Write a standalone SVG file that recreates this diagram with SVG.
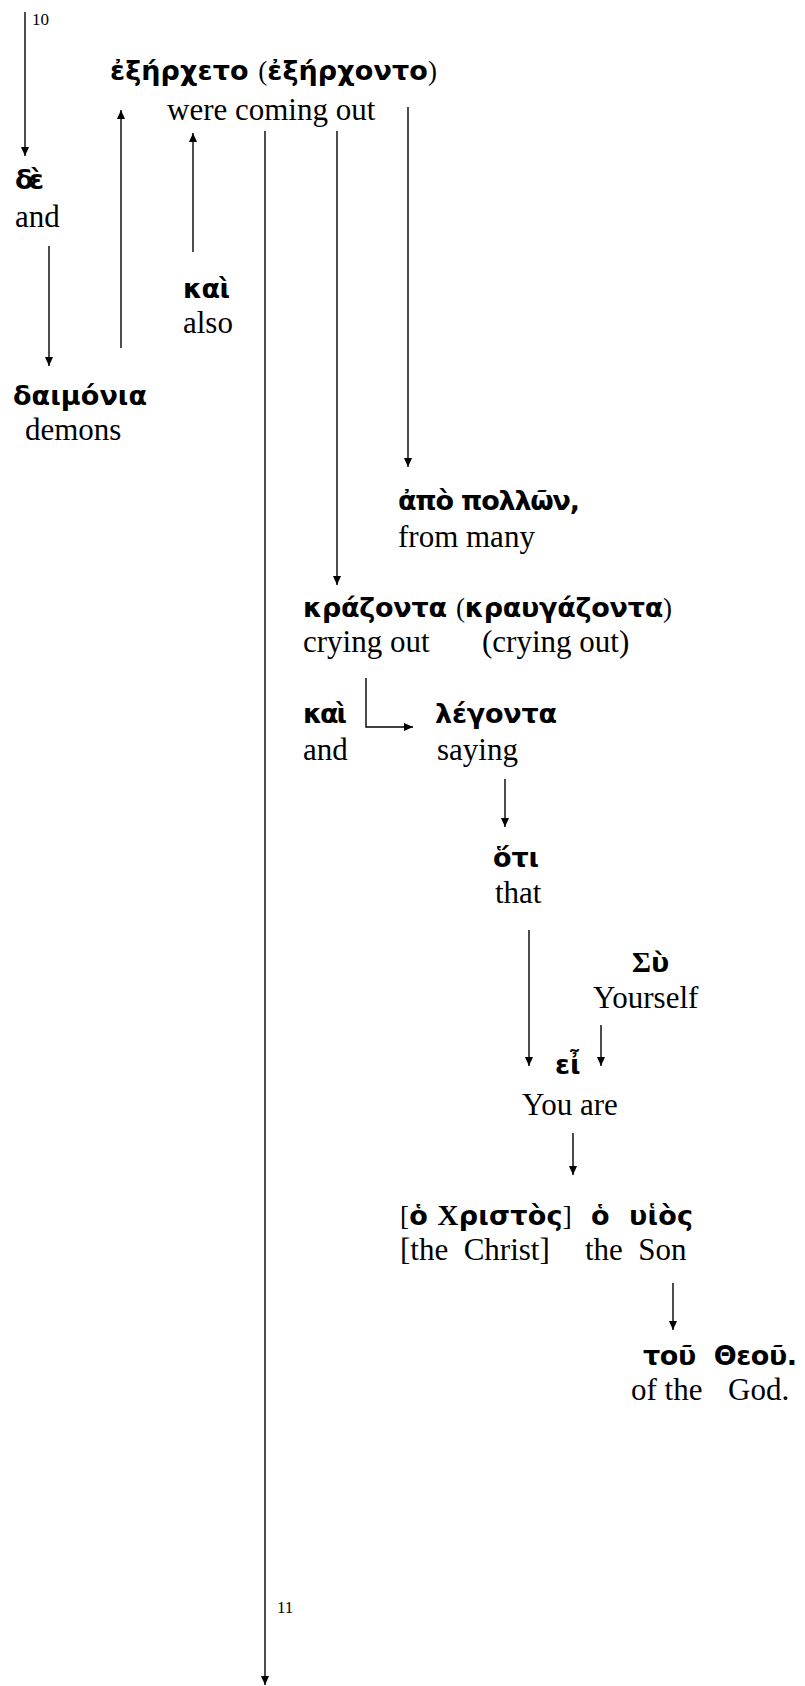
<svg xmlns="http://www.w3.org/2000/svg" width="805" height="1686" viewBox="0 0 805 1686">
<defs>
<marker id="ah" markerUnits="userSpaceOnUse" markerWidth="10" markerHeight="9" refX="9" refY="4" orient="auto">
<path d="M0,0 L9,4 L0,8 z" fill="#000"/>
</marker>
<style>
.gk{font-family:"DejaVu Sans",sans-serif;font-weight:bold;font-size:27px;fill:#000}
.en{font-family:"Liberation Serif",serif;font-size:31px;fill:#000}
.sr{font-family:"Liberation Serif",serif;font-weight:normal}
.srb{font-family:"Liberation Serif",serif;font-weight:bold;font-size:29px}
.num{font-family:"Liberation Serif",serif;font-size:17px;fill:#000}
.ln{stroke:#000;stroke-width:1.4;fill:none;marker-end:url(#ah)}
</style>
</defs>
<rect width="805" height="1686" fill="#fff"/>
<g id="connectors">
<line class="ln" x1="25" y1="12" x2="25" y2="156"/>
<line class="ln" x1="49" y1="246" x2="49" y2="366"/>
<line class="ln" x1="121" y1="348" x2="121" y2="110"/>
<line class="ln" x1="193" y1="252" x2="193" y2="133"/>
<line class="ln" x1="265" y1="131" x2="265" y2="1685"/>
<line class="ln" x1="337" y1="131" x2="337" y2="585"/>
<line class="ln" x1="408" y1="107" x2="408" y2="467"/>
<path class="ln" d="M366,678 V727 H413"/>
<line class="ln" x1="505" y1="779" x2="505" y2="827"/>
<line class="ln" x1="529" y1="930" x2="529" y2="1066"/>
<line class="ln" x1="601" y1="1025" x2="601" y2="1066"/>
<line class="ln" x1="573" y1="1133" x2="573" y2="1175"/>
<line class="ln" x1="673" y1="1283" x2="673" y2="1330"/>
</g>
<g id="v10"><text class="num" x="32" y="25">10</text></g>
<g id="v11"><text class="num" x="277" y="1613">11</text></g>
<g id="n-exercheto">
<text class="gk" x="110" y="80" textLength="327">ἐξήρχετο <tspan class="sr">(</tspan>ἐξήρχοντο<tspan class="sr">)</tspan></text>
<text class="en" x="167" y="120">were coming out</text>
</g>
<g id="n-de">
<text class="gk" x="15" y="189" textLength="29">δὲ</text>
<text class="en" x="15" y="227">and</text>
</g>
<g id="n-kai1">
<text class="gk" x="183" y="298" textLength="47">καὶ</text>
<text class="en" x="183" y="333">also</text>
</g>
<g id="n-daimonia">
<text class="gk" x="13" y="405" textLength="134">δαιμόνια</text>
<text class="en" x="25" y="440">demons</text>
</g>
<g id="n-apo">
<text class="gk" x="398" y="510" textLength="182">ἀπὸ πολλῶν,</text>
<text class="en" x="398" y="547">from many</text>
</g>
<g id="n-krazonta">
<text class="gk" x="303" y="617" textLength="369">κράζοντα <tspan class="sr">(</tspan>κραυγάζοντα<tspan class="sr">)</tspan></text>
<text class="en" x="303" y="652">crying out</text>
<text class="en" x="482" y="652">(crying out)</text>
</g>
<g id="n-kai2">
<text class="gk" x="303" y="723" textLength="44">καὶ</text>
<text class="en" x="303" y="760">and</text>
</g>
<g id="n-legonta">
<text class="gk" x="435" y="723" textLength="122">λέγοντα</text>
<text class="en" x="437" y="760">saying</text>
</g>
<g id="n-hoti">
<text class="gk" x="493" y="867" textLength="46">ὅτι</text>
<text class="en" x="495" y="903">that</text>
</g>
<g id="n-su">
<text class="gk" x="632" y="972"><tspan class="srb">Σ</tspan>ὺ</text>
<text class="en" x="593" y="1008">Yourself</text>
</g>
<g id="n-ei">
<text class="gk" x="555" y="1074">εἶ</text>
<text class="en" x="522" y="1115">You are</text>
</g>
<g id="n-huios">
<text class="gk" x="400" y="1225" textLength="293" xml:space="preserve"><tspan class="sr">[</tspan>ὁ <tspan class="srb">Χ</tspan>ριστὸς<tspan class="sr">]</tspan>  ὁ  υἱὸς</text>
<text class="en" x="400" y="1260" xml:space="preserve">[the  Christ]</text>
<text class="en" x="585" y="1260" xml:space="preserve">the  Son</text>
</g>
<g id="n-theou">
<text class="gk" x="643" y="1365" textLength="154" xml:space="preserve">τοῦ  Θεοῦ.</text>
<text class="en" x="631" y="1400">of the</text>
<text class="en" x="728" y="1400">God.</text>
</g>
</svg>
